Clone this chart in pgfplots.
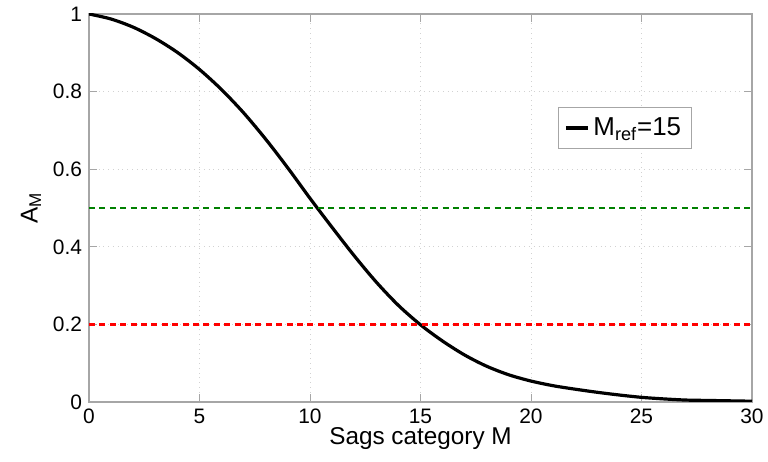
\documentclass[border=0pt]{standalone}
\usepackage{fontspec}
\setmainfont{Liberation Sans}
\usepackage{pgfplots}
\pgfplotsset{compat=1.18}

\definecolor{mgreen}{rgb}{0,0.5,0}
\definecolor{mred}{rgb}{1,0,0}

\begin{document}
\begin{tikzpicture}[font=\fontsize{10.5}{12.6}\selectfont]
\begin{axis}[
    at={(0,0)}, anchor=south west,
    scale only axis,
    width=331.5bp, height=194bp,
    xmin=0, xmax=30, ymin=0, ymax=1,
    xtick={0,5,...,30},
    ytick={0,0.2,0.4,0.6,0.8,1},
    yticklabels={0,0.2,0.4,0.6,0.8,1},
    tick align=inside,
    tick pos=both,
    major tick length=4bp,
    tick style={gray!70, line width=0.5pt},
    axis line style={gray!70, line width=0.6pt},
    grid=major,
    grid style={gray!35, dotted, line width=0.5pt},
    /pgf/number format/assume math mode=true,
    xlabel={Sags category M},
    ylabel={A\textsubscript{M}},
    xlabel style={yshift=5bp, font=\fontsize{12.2}{14}\selectfont},
    ylabel style={yshift=-1bp, font=\fontsize{12.2}{14}\selectfont},
    legend style={at={(axis description cs:0.707,0.76)}, anchor=north west,
        draw=gray!70, line width=0.5pt, inner xsep=3bp, inner ysep=3bp,
        font=\fontsize{13}{15.5}\selectfont},
    legend cell align=left,
    legend image code/.code={\draw[#1] (0bp,0bp) -- (11bp,0bp);},
]
\addplot[black, line width=1.6bp, smooth] coordinates {
(0,1.000) (1,0.987) (2,0.966) (3,0.937) (4,0.901) (5,0.857)
(6,0.805) (7,0.745) (8,0.677) (9,0.603) (10,0.525) (11,0.450)
(12,0.377) (13,0.309) (14,0.249) (15,0.199) (16,0.157) (17,0.121)
(18,0.092) (19,0.070) (20,0.054) (21,0.042) (22,0.033) (23,0.025)
(24,0.018) (25,0.012) (26,0.008) (27,0.005) (28,0.004) (29,0.003) (30,0.002)
};
\addlegendentry{M\textsubscript{ref}=15}
\addplot[mgreen, line width=1.2bp, dash pattern=on 3bp off 2.2bp, forget plot] coordinates {(0,0.5) (30,0.5)};
\addplot[mred, line width=1.2bp, dash pattern=on 3bp off 2.2bp, forget plot] coordinates {(0,0.2) (30,0.2)};
\end{axis}
\pgfresetboundingbox
\path (-44.5bp,-30bp) rectangle (339.5bp,201bp);
\end{tikzpicture}
\end{document}
